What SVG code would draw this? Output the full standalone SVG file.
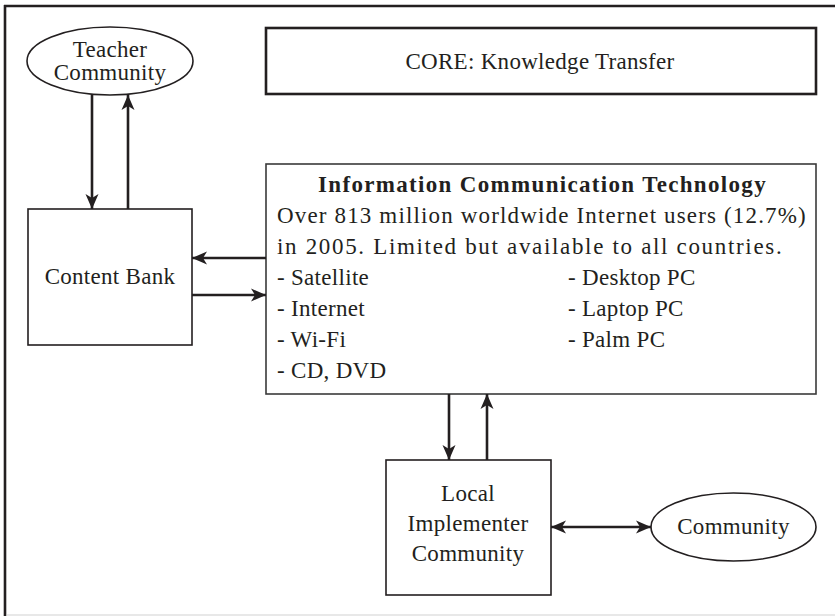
<svg xmlns="http://www.w3.org/2000/svg" width="835" height="616" viewBox="0 0 835 616">
<style>
text{font-family:"Liberation Serif","Times New Roman",serif;font-size:23px;letter-spacing:0.3px;fill:#231f20}
.c{text-anchor:middle}
.b{font-weight:bold}
.shape{fill:#fff;stroke:#231f20;stroke-width:1.6}
.con{stroke:#231f20;stroke-width:2.6;fill:none;marker-end:url(#ah)}
</style>
<defs>
<marker id="ah" markerUnits="userSpaceOnUse" markerWidth="18" markerHeight="14" refX="15" refY="7" orient="auto-start-reverse">
<path d="M0,0.5 L15,7 L0,13.5 L4,7 Z" fill="#231f20"/>
</marker>
</defs>
<rect width="835" height="616" fill="#fff"/>
<g id="frame">
<line x1="5" y1="5" x2="5" y2="616" stroke="#231f20" stroke-width="2.6"/>
<line x1="4" y1="6" x2="835" y2="6" stroke="#231f20" stroke-width="2.6"/>
<line x1="7" y1="615" x2="835" y2="615" stroke="#e0e0e0" stroke-width="1.5"/>
</g>
<g id="teacher">
<ellipse class="shape" cx="110" cy="61" rx="83" ry="34"/>
<text class="c" x="110" y="57">Teacher</text>
<text class="c" x="110" y="80">Community</text>
</g>
<g id="core">
<rect class="shape" x="266" y="28" width="550" height="66" style="stroke-width:2.6"/>
<text class="c" x="540" y="69">CORE: Knowledge Transfer</text>
</g>
<g id="contentbank">
<rect class="shape" x="28" y="209" width="164" height="136"/>
<text class="c" x="110" y="284">Content Bank</text>
</g>
<g id="ict">
<rect class="shape" x="266" y="164" width="550" height="230" style="stroke:#3a3a3a"/>
<text class="c b" x="542" y="192" textLength="448" lengthAdjust="spacing">Information Communication Technology</text>
<text x="277" y="223" textLength="529" lengthAdjust="spacing">Over 813 million worldwide Internet users (12.7%)</text>
<text x="277" y="254" textLength="505" lengthAdjust="spacing">in 2005. Limited but available to all countries.</text>
<text x="277" y="285">- Satellite</text>
<text x="277" y="316">- Internet</text>
<text x="277" y="347">- Wi-Fi</text>
<text x="277" y="378">- CD, DVD</text>
<text x="568" y="285">- Desktop PC</text>
<text x="568" y="316">- Laptop PC</text>
<text x="568" y="347">- Palm PC</text>
</g>
<g id="local">
<rect class="shape" x="386" y="460" width="165" height="135"/>
<text class="c" x="468" y="501">Local</text>
<text class="c" x="468" y="531">Implementer</text>
<text class="c" x="468" y="561">Community</text>
</g>
<g id="community">
<ellipse class="shape" cx="733.5" cy="527" rx="82.5" ry="34"/>
<text class="c" x="733.5" y="534">Community</text>
</g>
<g id="connectors">
<line class="con" x1="92" y1="95" x2="92" y2="209"/>
<line class="con" x1="128" y1="209" x2="128" y2="95"/>
<line class="con" x1="266" y1="258" x2="192" y2="258"/>
<line class="con" x1="192" y1="295" x2="266" y2="295"/>
<line class="con" x1="449" y1="394" x2="449" y2="460"/>
<line class="con" x1="487" y1="460" x2="487" y2="394"/>
<line class="con" x1="551" y1="527" x2="651" y2="527" style="marker-start:url(#ah)"/>
</g>
</svg>
